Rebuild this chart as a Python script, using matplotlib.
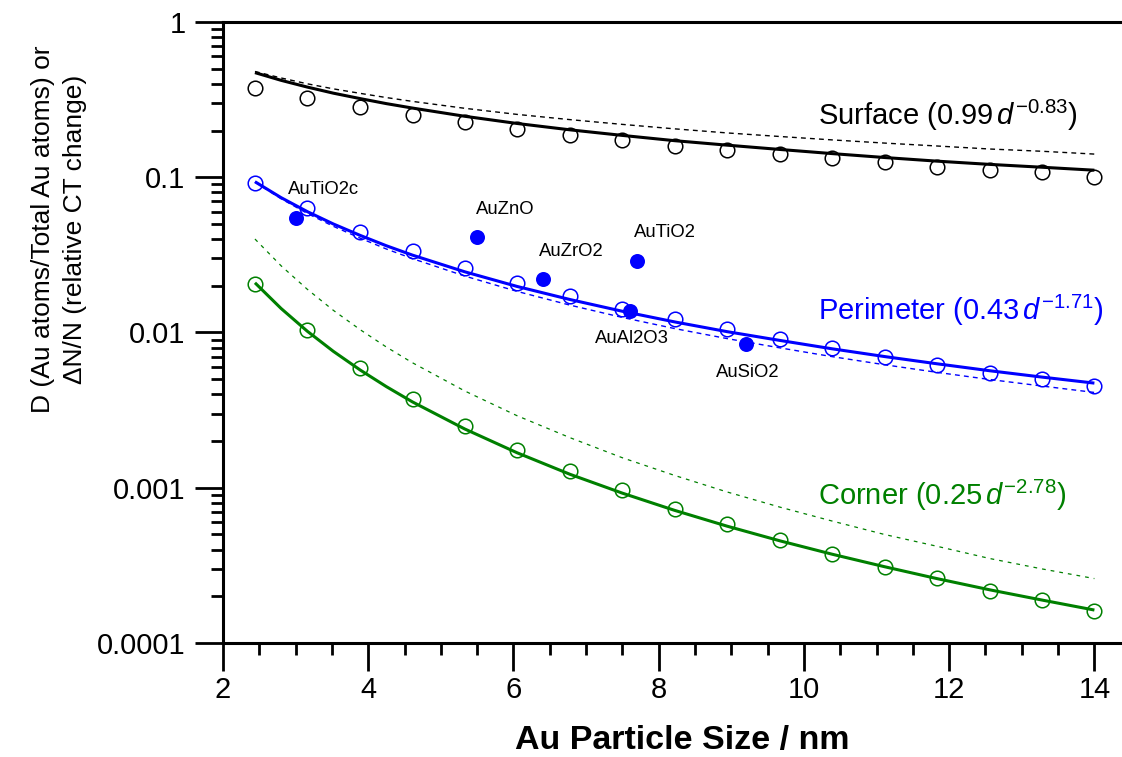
import matplotlib
matplotlib.use('Agg')
import matplotlib.pyplot as plt
from matplotlib.ticker import FixedLocator, FixedFormatter, MultipleLocator, LogLocator, NullFormatter

plt.rcParams['font.family'] = ['Liberation Sans', 'DejaVu Sans']
plt.rcParams['mathtext.fontset'] = 'custom'
plt.rcParams['mathtext.rm'] = 'Liberation Sans'
plt.rcParams['mathtext.it'] = 'Liberation Sans:italic'
plt.rcParams['mathtext.bf'] = 'Liberation Sans:bold'

# ---------------- data ----------------
size_nm = [2.44, 3.16, 3.89, 4.61, 5.33, 6.05, 6.78, 7.50, 8.22, 8.94,
           9.67, 10.39, 11.11, 11.83, 12.56, 13.28, 14.0]
surface_sim = [0.376, 0.324, 0.283, 0.250, 0.226, 0.205, 0.187, 0.174, 0.160, 0.150,
               0.141, 0.134, 0.126, 0.117, 0.112, 0.108, 0.101]
perimeter_sim = [0.092, 0.063, 0.0444, 0.0335, 0.0262, 0.0208, 0.0172, 0.0142, 0.0122, 0.01054,
                 0.0091, 0.0080, 0.00695, 0.0062, 0.0055, 0.0050, 0.00452]
corner_sim = [0.0205, 0.01038, 0.0059, 0.00373, 0.0025, 0.00175, 0.00128, 0.000967, 0.00073, 0.000583,
              0.00046, 0.000374, 0.000309, 0.000263, 0.000216, 0.000189, 0.000161]

fit_size_nm = [2.44, 2.8, 3.16, 3.52, 3.89, 4.25, 4.61, 5.33, 6.05, 6.78,
               7.50, 8.22, 8.94, 9.67, 10.39, 11.11, 11.83, 12.56, 13.28, 14.0]
surface_fit = [0.472, 0.421, 0.381, 0.348, 0.321, 0.298, 0.279, 0.247, 0.222, 0.202,
               0.186, 0.172, 0.161, 0.151, 0.142, 0.134, 0.127, 0.121, 0.116, 0.111]
perimeter_fit = [0.0936, 0.0739, 0.0601, 0.0500, 0.0422, 0.0362, 0.0315, 0.0246, 0.0198, 0.0163,
                 0.0137, 0.0117, 0.01013, 0.00889, 0.00785, 0.00700, 0.00629, 0.00567, 0.00516, 0.00472]
corner_fit = [0.0209, 0.01428, 0.0102, 0.00756, 0.00573, 0.00448, 0.00357, 0.00239, 0.00168, 0.00122,
              0.000923, 0.000715, 0.000566, 0.000455, 0.000373, 0.000310, 0.000260, 0.000220, 0.000189, 0.000163]

surface_dash = [0.480, 0.436, 0.400, 0.371, 0.347, 0.326, 0.308, 0.278, 0.254, 0.235,
                0.219, 0.205, 0.193, 0.183, 0.174, 0.166, 0.159, 0.152, 0.147, 0.141]
perimeter_dash = [0.0930, 0.0727, 0.0585, 0.0483, 0.0405, 0.0345, 0.0299, 0.0231, 0.0184, 0.0150,
                  0.0125, 0.0106, 0.00914, 0.00796, 0.00699, 0.00620, 0.00554, 0.00498, 0.00452, 0.00411]
corner_dash = [0.0400, 0.0269, 0.0190, 0.01389, 0.01042, 0.00806, 0.00638, 0.00420, 0.00291, 0.00210,
               0.00156, 0.00120, 0.00094, 0.00075, 0.00061, 0.00050, 0.00042, 0.00035, 0.00030, 0.00026]

catalyst_names = ['AuTiO2c', 'AuZnO', 'AuZrO2', 'AuTiO2', 'AuAl2O3', 'AuSiO2']
catalyst_size = [3.0, 5.5, 6.4, 7.7, 7.6, 9.2]
catalyst_dn = [0.0547, 0.0412, 0.0221, 0.0289, 0.01376, 0.00843]

x_ticks = [2, 4, 6, 8, 10, 12, 14]
x_tick_labels = ['2', '4', '6', '8', '10', '12', '14']
y_ticks = [0.0001, 0.001, 0.01, 0.1, 1]
y_tick_labels = ['0.0001', '0.001', '0.01', '0.1', '1']

# ---------------- drawing ----------------
BLACK = '#000000'
BLUE = '#0000ff'
GREEN = '#008000'

fig = plt.figure(figsize=(11.22, 7.57), dpi=100)
ax = fig.add_axes([223 / 1122, 114 / 757, (1122 - 223) / 1122, 621 / 757])
ax.set_yscale('log')

for sim, fit, dash, col, dash_style, dash_lw in [
        (surface_sim, surface_fit, surface_dash, BLACK, (0, (3.5, 3)), 1.0),
        (perimeter_sim, perimeter_fit, perimeter_dash, BLUE, (0, (3.5, 3)), 1.0),
        (corner_sim, corner_fit, corner_dash, GREEN, (0, (3, 4)), 0.9)]:
    ax.plot(fit_size_nm, dash, color=col, lw=dash_lw, linestyle=dash_style, zorder=2)
    ax.plot(size_nm, sim, linestyle='none', marker='o', markersize=10.5,
            markerfacecolor='none', markeredgecolor=col, markeredgewidth=1.1, zorder=3)
    ax.plot(fit_size_nm, fit, color=col, lw=2.2, solid_capstyle='butt', zorder=4)

ax.plot(catalyst_size, catalyst_dn, linestyle='none', marker='o', markersize=10.8,
        color=BLUE, markeredgewidth=0, zorder=5)

label_offsets_px = {'AuTiO2c': (-8, 28), 'AuZnO': (-1, 28), 'AuZrO2': (-4, 28),
                    'AuTiO2': (-3, 28), 'AuAl2O3': (-35, -28), 'AuSiO2': (-30, -28)}
for name, xs, ys in zip(catalyst_names, catalyst_size, catalyst_dn):
    ax.annotate(name, (xs, ys), xytext=label_offsets_px[name], textcoords='offset pixels',
                ha='left', va='center', fontsize=13.3, color=BLACK)

ax.text(10.2, 0.252, r'Surface (0.99$\,d^{-0.83}$)', color=BLACK, fontsize=21,
        ha='left', va='center')
ax.text(10.2, 0.01396, r'Perimeter (0.43$\,d^{-1.71}$)', color=BLUE, fontsize=21,
        ha='left', va='center')
ax.text(10.2, 0.000898, r'Corner (0.25$\,d^{-2.78}$)', color=GREEN, fontsize=21,
        ha='left', va='center')

ax.set_xlim(2, 14.38)
ax.set_ylim(1e-4, 1)

ax.xaxis.set_major_locator(FixedLocator(x_ticks))
ax.xaxis.set_major_formatter(FixedFormatter(x_tick_labels))
ax.xaxis.set_minor_locator(MultipleLocator(0.5))
ax.yaxis.set_major_locator(FixedLocator(y_ticks))
ax.yaxis.set_major_formatter(FixedFormatter(y_tick_labels))
ax.yaxis.set_minor_locator(LogLocator(base=10, subs=[2, 3, 4, 5, 6, 7, 8, 9], numticks=20))
ax.yaxis.set_minor_formatter(NullFormatter())

for side in ['left', 'bottom', 'top']:
    ax.spines[side].set_linewidth(2.2)
ax.spines['right'].set_visible(False)

ax.tick_params(axis='both', which='major', direction='out', length=20, width=2,
               labelsize=21, top=False, right=False)
ax.tick_params(axis='both', which='minor', direction='out', length=8.5, width=2,
               top=False, right=False)
ax.tick_params(axis='x', which='major', pad=4)
ax.tick_params(axis='y', which='major', pad=7)

fig.text(59 / 1122, 1 - 229 / 757, 'D (Au atoms/Total Au atoms) or\n\u0394N/N (relative CT change)',
         rotation=90, ha='center', va='center', fontsize=19, linespacing=1.47,
         multialignment='center')
fig.text(682 / 1122, 1 - 741 / 757, 'Au Particle Size / nm', fontsize=24.5, fontweight='bold',
         ha='center', va='center')

fig.savefig('out.png', dpi=100)
